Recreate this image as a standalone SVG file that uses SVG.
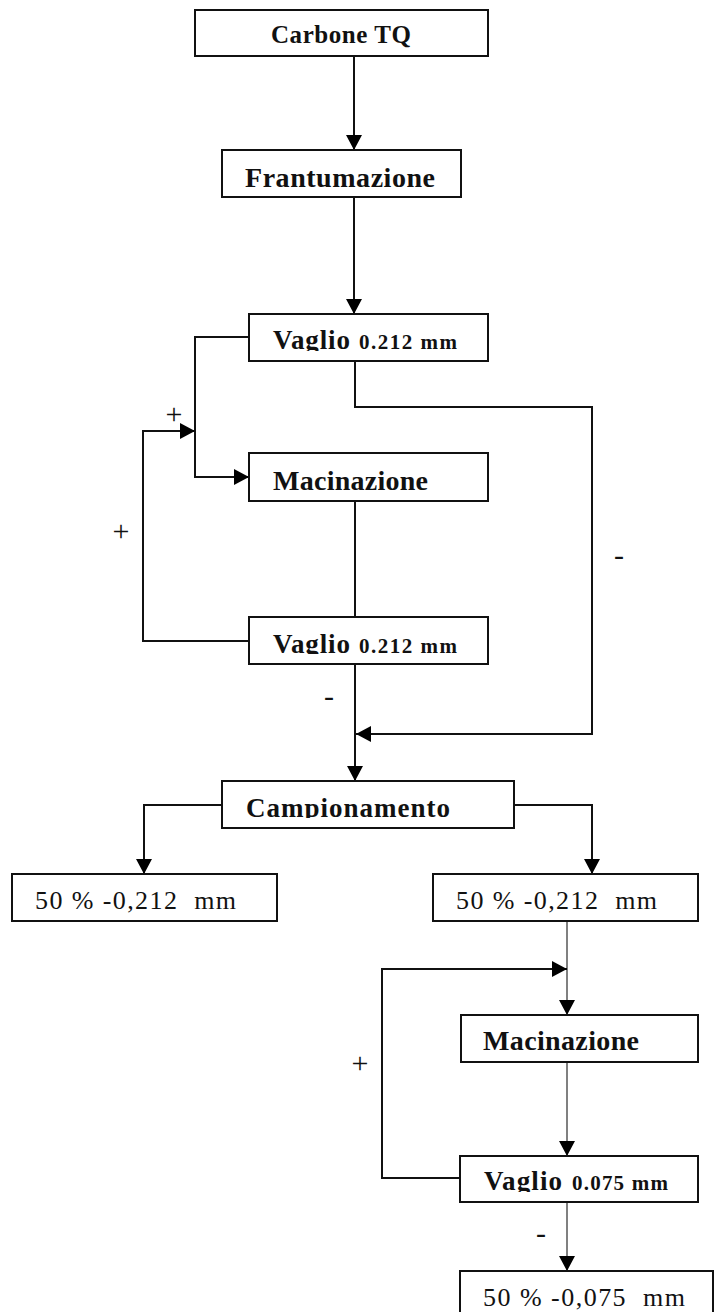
<svg xmlns="http://www.w3.org/2000/svg" width="714" height="1312" viewBox="0 0 714 1312">
<style>
.box{fill:#fff;stroke:#111;stroke-width:2}
.b{font-family:"Liberation Serif","Times New Roman",serif;font-weight:bold;fill:#111}
.r{font-family:"Liberation Serif","Times New Roman",serif;fill:#111;white-space:pre}
.s{font-family:"Liberation Serif","Times New Roman",serif;fill:#111;font-size:30px}
.ln{fill:none;stroke:#111;stroke-width:2}
.gl{fill:none;stroke:#808080;stroke-width:2}
</style>
<defs>
<marker id="ah" markerUnits="userSpaceOnUse" markerWidth="16" markerHeight="16" refX="15" refY="8" orient="auto">
<path d="M0,0 L15,8 L0,16 z" fill="#000"/>
</marker>
<clipPath id="c1"><rect x="249" y="314" width="239" height="37"/></clipPath>
<clipPath id="c2"><rect x="249" y="617" width="239" height="37"/></clipPath>
<clipPath id="c3"><rect x="222" y="781" width="292" height="37"/></clipPath>
<clipPath id="c4"><rect x="460" y="1156" width="238" height="36"/></clipPath>
</defs>
<rect width="714" height="1312" fill="#fff"/>
<g id="connectors">
<path class="ln" d="M354,56 V150" marker-end="url(#ah)"/>
<path class="ln" d="M354,197 V314" marker-end="url(#ah)"/>
<path class="ln" d="M249,337 H195 V477 H249" marker-end="url(#ah)"/>
<path class="ln" d="M249,641 H143 V431 H195" marker-end="url(#ah)"/>
<path class="ln" d="M355,361 V407 H592 V734 H356" marker-end="url(#ah)"/>
<path class="ln" d="M355,501 V617" stroke="#333"/>
<path class="ln" d="M355,664 V781" marker-end="url(#ah)"/>
<path class="ln" d="M222,805 H144 V874" marker-end="url(#ah)"/>
<path class="ln" d="M514,805 H592 V874" marker-end="url(#ah)"/>
<path class="gl" d="M567,921 V1015" marker-end="url(#ah)"/>
<path class="ln" d="M460,1178 H382 V969 H567" marker-end="url(#ah)"/>
<path class="gl" d="M567,1062 V1156" marker-end="url(#ah)"/>
<path class="gl" d="M567,1202 V1271" marker-end="url(#ah)"/>
<text class="s" x="174" y="424" text-anchor="middle">+</text>
<text class="s" x="121" y="541" text-anchor="middle">+</text>
<text class="s" x="360" y="1073" text-anchor="middle">+</text>
<text class="s" x="619" y="565" text-anchor="middle">-</text>
<text class="s" x="329" y="706" text-anchor="middle">-</text>
<text class="s" x="541" y="1243" text-anchor="middle">-</text>
</g>
<g id="carbone">
<rect class="box" x="195" y="10" width="293" height="46"/>
<text class="b" x="271" y="43" font-size="25" textLength="140">Carbone TQ</text>
</g>
<g id="frantumazione">
<rect class="box" x="222" y="150" width="239" height="47"/>
<text class="b" x="245" y="187" font-size="28" textLength="190">Frantumazione</text>
</g>
<g id="vaglio1">
<rect class="box" x="249" y="314" width="239" height="47"/>
<g clip-path="url(#c1)">
<text class="b" x="273" y="349" font-size="27" textLength="77">Vaglio</text>
<text class="b" x="359" y="349" font-size="21" textLength="98">0.212 mm</text>
</g>
</g>
<g id="macinazione1">
<rect class="box" x="249" y="453" width="239" height="48"/>
<text class="b" x="273" y="490" font-size="28" textLength="155">Macinazione</text>
</g>
<g id="vaglio2">
<rect class="box" x="249" y="617" width="239" height="47"/>
<g clip-path="url(#c2)">
<text class="b" x="273" y="653" font-size="27" textLength="77">Vaglio</text>
<text class="b" x="359" y="653" font-size="21" textLength="98">0.212 mm</text>
</g>
</g>
<g id="campionamento">
<rect class="box" x="222" y="781" width="292" height="47"/>
<g clip-path="url(#c3)">
<text class="b" x="246" y="817" font-size="27" textLength="204">Campionamento</text>
</g>
</g>
<g id="out-left">
<rect class="box" x="12" y="874" width="265" height="47"/>
<text class="r" x="35" y="909" font-size="26" textLength="201">50 % -0,212  mm</text>
</g>
<g id="out-right">
<rect class="box" x="433" y="874" width="265" height="47"/>
<text class="r" x="456" y="909" font-size="26" textLength="201">50 % -0,212  mm</text>
</g>
<g id="macinazione2">
<rect class="box" x="461" y="1015" width="237" height="47"/>
<text class="b" x="483" y="1050" font-size="28" textLength="156">Macinazione</text>
</g>
<g id="vaglio3">
<rect class="box" x="460" y="1156" width="238" height="46"/>
<g clip-path="url(#c4)">
<text class="b" x="484" y="1190" font-size="27" textLength="78">Vaglio</text>
<text class="b" x="572" y="1190" font-size="21" textLength="96">0.075 mm</text>
</g>
</g>
<g id="final">
<rect class="box" x="460" y="1271" width="253" height="50"/>
<text class="r" x="483" y="1306" font-size="26" textLength="202">50 % -0,075  mm</text>
</g>
</svg>
